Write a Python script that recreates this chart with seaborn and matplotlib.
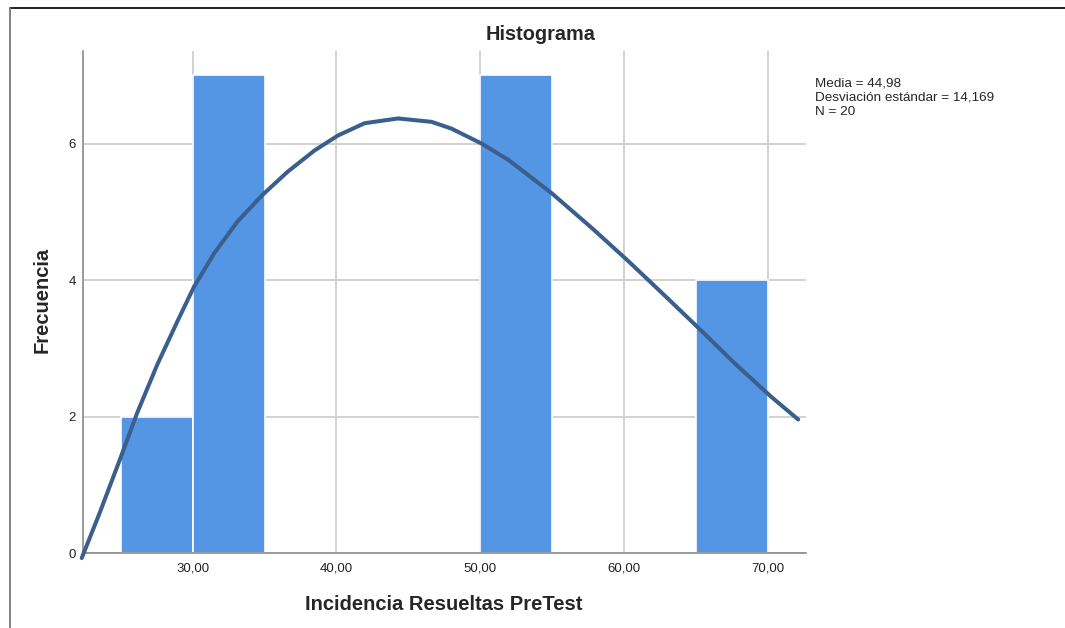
import numpy as np
import pandas as pd
import matplotlib
matplotlib.use("Agg")
import matplotlib.pyplot as plt
import seaborn as sns
from matplotlib.lines import Line2D

# Histogram bins (centre of each 5-wide bin) and their frequencies
bin_centers = [27.5, 32.5, 52.5, 67.5]
frequencies = [2, 7, 7, 4]

# Normal curve as drawn by SPSS
curve_x = [22.30, 23.58, 24.98, 26.14, 27.54, 28.93, 30.09, 31.49, 33.12, 34.86,
           36.61, 38.47, 40.10, 41.95, 44.28, 46.61, 48.00, 50.10, 51.96, 54.98,
           57.77, 60.33, 63.13, 65.45, 67.78, 70.22, 72.08]
curve_y = [-0.07, 0.61, 1.39, 2.05, 2.76, 3.39, 3.90, 4.39, 4.86, 5.25,
           5.59, 5.90, 6.12, 6.30, 6.37, 6.32, 6.22, 6.00, 5.76, 5.27,
           4.76, 4.27, 3.71, 3.24, 2.76, 2.29, 1.96]

x_ticks = [30, 40, 50, 60, 70]
x_tick_labels = ["30,00", "40,00", "50,00", "60,00", "70,00"]
y_ticks = [0, 2, 4, 6]

stats_text = "Media = 44,98\nDesviación estándar = 14,169\nN = 20"

sns.set_style("white")
plt.rcParams["font.family"] = ["Liberation Sans", "DejaVu Sans"]

fig = plt.figure(figsize=(10.65, 6.28), dpi=100)
ax = fig.add_axes([0.0777, 0.119, 0.6788, 0.800])

df = pd.DataFrame({"valor": bin_centers, "frecuencia": frequencies})
sns.histplot(data=df, x="valor", weights="frecuencia", binwidth=5, binrange=(25, 70),
             color="#5596E4", alpha=1, edgecolor="white", linewidth=1.2, ax=ax, zorder=2)

sns.lineplot(x=curve_x, y=curve_y, color="#3b5f8d", linewidth=2.9, ax=ax,
             sort=False, zorder=3, clip_on=False)
ax.lines[-1].set_solid_joinstyle("round")

ax.set_xlim(22.37, 72.6)
ax.set_ylim(0, 7.36)
ax.set_xticks(x_ticks)
ax.set_xticklabels(x_tick_labels)
ax.set_yticks(y_ticks)
ax.tick_params(axis="both", length=0, labelsize=9.5, colors="#222222")
ax.tick_params(axis="x", pad=7)
ax.tick_params(axis="y", pad=5)

# light grey grid behind the bars
ax.set_axisbelow(True)
ax.grid(True, color="#cfcfcf", linewidth=1.3)

for side in ["top", "right"]:
    ax.spines[side].set_visible(False)
for side in ["left", "bottom"]:
    ax.spines[side].set_color("#8a8a8a")
    ax.spines[side].set_linewidth(1.2)

ax.set_xlabel("")
ax.set_ylabel("")

# titles and labels placed like the SPSS output
fig.text(541 / 1065, 1 - 35 / 628, "Histograma", ha="center", va="center",
         fontsize=14.3, fontweight="bold")
fig.text(444 / 1065, 1 - 604 / 628, "Incidencia Resueltas PreTest", ha="center",
         va="center", fontsize=14.5, fontweight="bold")
fig.text(42 / 1065, 1 - 300 / 628, "Frecuencia", ha="center", va="center",
         rotation=90, fontsize=14.5, fontweight="bold")
fig.text(815 / 1065, 1 - 78 / 628, stats_text, ha="left", va="top",
         fontsize=9.7, linespacing=1.2)

# thin frame lines at top and left of the image
fig.add_artist(Line2D([10 / 1065, 1], [1 - 7.5 / 628, 1 - 7.5 / 628],
                      color="#111111", linewidth=1.3, transform=fig.transFigure))
fig.add_artist(Line2D([10 / 1065, 10 / 1065], [0, 1 - 7.5 / 628],
                      color="#777777", linewidth=1.3, transform=fig.transFigure))

fig.savefig("out.png", dpi=100)
